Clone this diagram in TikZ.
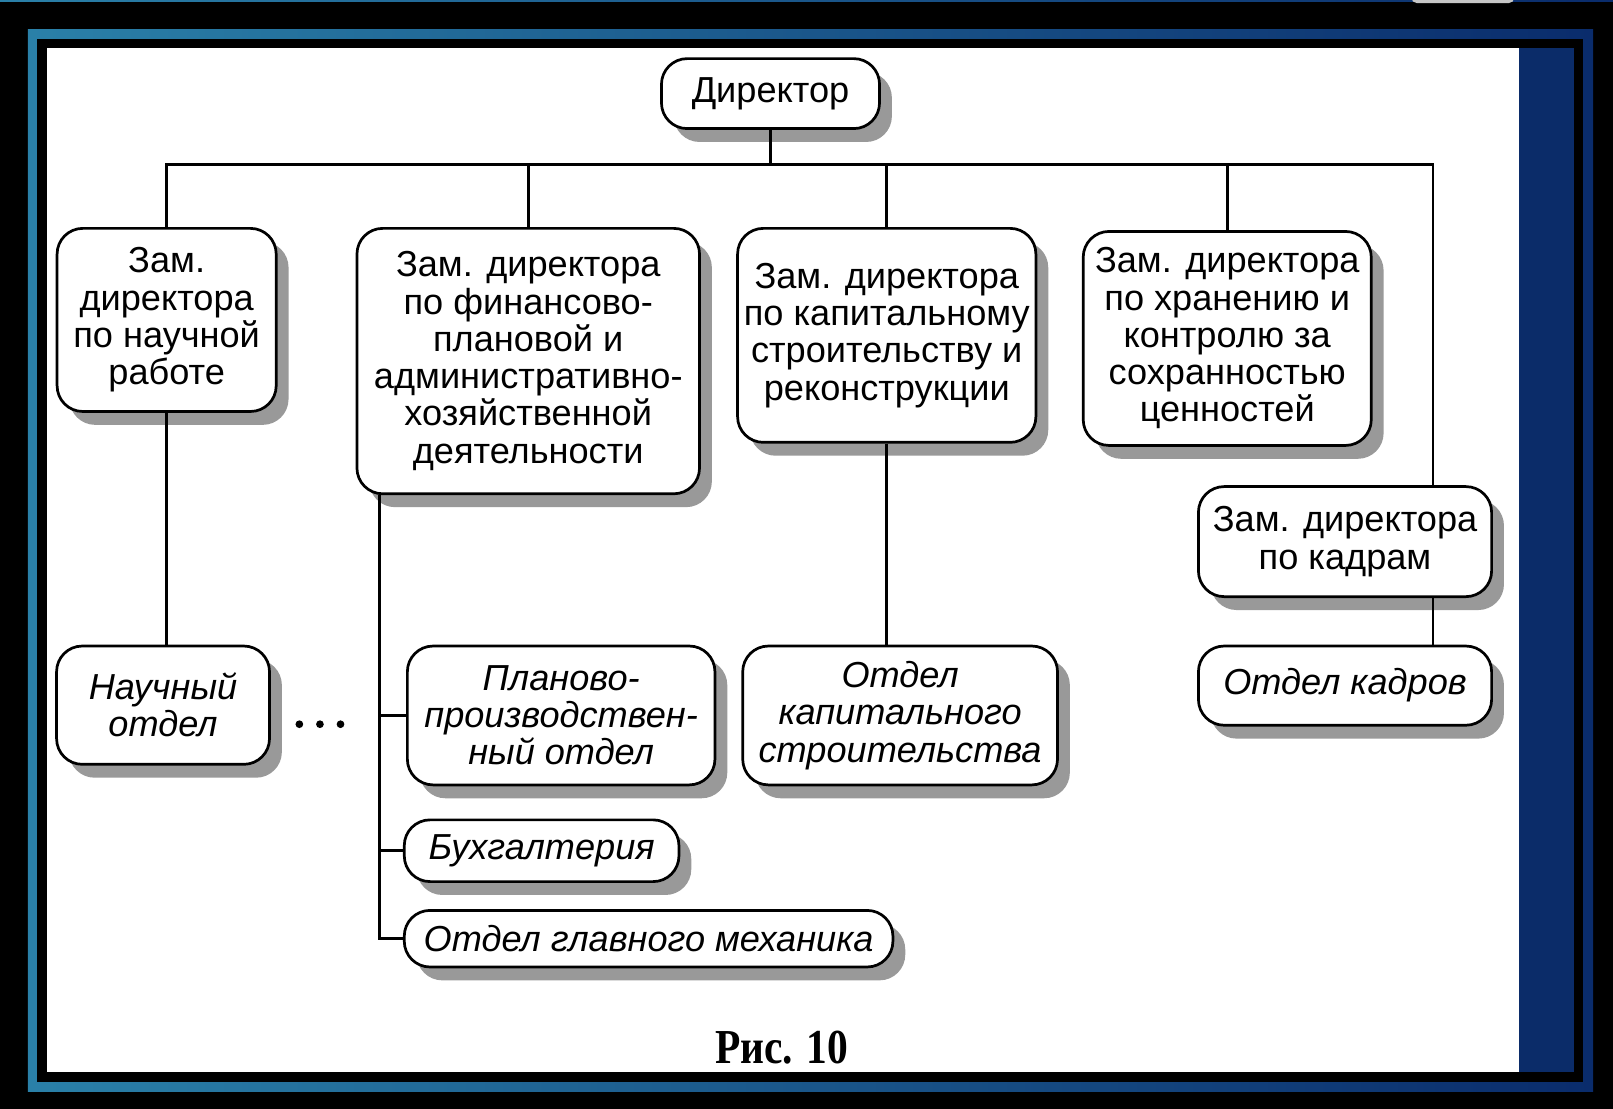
\documentclass[tikz,border=0pt]{standalone}
\usepackage{fontspec}
\setmainfont{Liberation Sans}
\newfontfamily\capfont{Liberation Serif}
\usepackage{tikz}
\usetikzlibrary{shadows}

\definecolor{frameteal}{RGB}{42,128,168}
\definecolor{framemid}{RGB}{30,92,150}
\definecolor{framenavy}{RGB}{10,44,108}
\definecolor{panelnavy}{RGB}{11,44,105}

\begin{document}
\begin{tikzpicture}[x=0.2mm, y=-0.2mm,
    box/.style={draw, line width=1.5pt, rounded corners=5mm, fill=white, align=center, inner sep=0pt,
        font=\fontsize{20}{20.6}\selectfont,
        drop shadow={shadow xshift=2.4mm, shadow yshift=-2.6mm, fill=black!40, opacity=1}},
    dept/.style={box, font=\fontsize{20}{20.6}\selectfont\itshape},
    link/.style={line width=1.4pt}]
    \useasboundingbox (0,0) rectangle (1568,1078);

    % frame
    \fill[black] (0,0) rectangle (1568,1078);
    \shade[left color=frameteal, middle color=framemid, right color=framenavy] (0,0) rectangle (1568,1.5);
    \fill[gray!45, rounded corners=3pt] (1372,-8) rectangle (1472,3);
    \shade[left color=frameteal, middle color=framemid, right color=framenavy] (27,29) rectangle (1548.6,1061.5);
    \fill[black] (36,38) rectangle (1539,1052);
    \fill[white] (45.7,46.7) rectangle (1476.6,1042);
    \fill[panelnavy] (1476.6,46.7) rectangle (1530,1042);

    \node[box, minimum width=42.4mm, minimum height=13.6mm] (dir) at (749,91) {Директор};

    \node[box, minimum width=42.6mm, minimum height=35.6mm] (zam1) at (162,311)
        {Зам.\\директора\\по научной\\работе};
    \node[box, minimum width=66.6mm, minimum height=51.6mm] (zam2) at (513.5,351)
        {Зам. директора\\по финансово-\\плановой и\\административно-\\хозяйственной\\деятельности};
    \node[box, minimum width=58mm, minimum height=41.6mm] (zam3) at (862,326)
        {Зам. директора\\по капитальному\\строительству и\\реконструкции};
    \node[box, minimum width=56mm, minimum height=41.6mm] (zam4) at (1193,329)
        {Зам. директора\\по хранению и\\контролю за\\сохранностью\\ценностей};
    \node[box, minimum width=57mm, minimum height=21.4mm] (zam5) at (1307.5,526.5)
        {Зам. директора\\по кадрам};

    \node[dept, minimum width=41.4mm, minimum height=23mm] (nauch) at (158.5,685.5) {Научный\\отдел};
    \node[dept, minimum width=59.8mm, minimum height=27mm] (plan) at (545.5,695.5)
        {Планово-\\производствен-\\ный отдел};
    \node[dept, minimum width=61.2mm, minimum height=27mm] (kapstr) at (875,695.5)
        {Отдел\\капитального\\строительства};
    \node[dept, minimum width=53.4mm, minimum height=12mm] (buh) at (526.5,827) {Бухгалтерия};
    \node[dept, minimum width=95mm, minimum height=11mm] (mech) at (630.5,912.5) {Отдел главного механика};
    \node[dept, minimum width=57mm, minimum height=15.4mm] (kadr) at (1307.5,666.5) {Отдел кадров};

    \foreach \x in {291,311,331}
        \fill (\x,704) circle (0.75mm);

    \node[font=\capfont\fontsize{27}{30}\selectfont\bfseries, xscale=0.85] (cap) at (760,1018) {Рис. 10};

    \coordinate (busR) at (1393,160);
    \coordinate (trunk) at ([xshift=4.6mm]zam2.south west);

    \draw[link] (zam1.north) |- (busR) -- (busR |- zam5.north);
    \draw[link] (dir.south) -- (dir.south |- busR);
    \draw[link] (zam2.north) -- (zam2.north |- busR);
    \draw[link] (zam3.north) -- (zam3.north |- busR);
    \draw[link] (zam4.north) -- (zam4.north |- busR);
    \draw[link] (zam1.south) -- (zam1.south |- nauch.north);
    \draw[link] (zam3.south) -- (zam3.south |- kapstr.north);
    \draw[link] (busR |- zam5.south) -- (busR |- kadr.north);
    \draw[link] (trunk) |- (mech.west);
    \draw[link] (trunk |- plan.west) -- (plan.west);
    \draw[link] (trunk |- buh.west) -- (buh.west);
\end{tikzpicture}
\end{document}
